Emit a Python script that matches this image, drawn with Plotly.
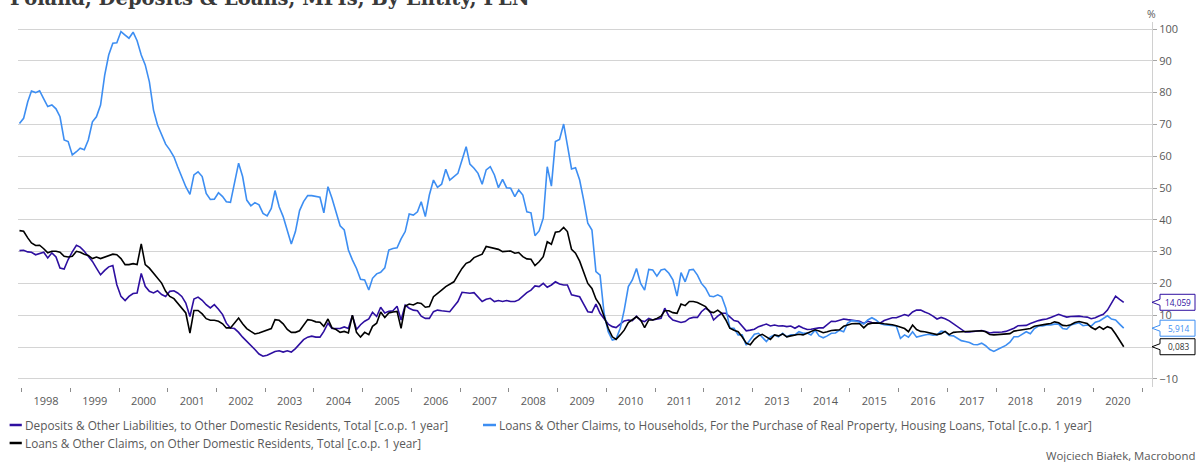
import pandas as pd
import plotly.graph_objects as go

# ---------------- data (monthly, Dec 1997 .. Aug 2020) ----------------
first_month = "1997-12-01"

deposits = [
    30.3,
    30.4, 29.9, 29.8, 29.0, 29.4, 29.8, 28.0, 29.6, 28.3, 24.8, 24.5, 27.5,
    29.9, 32.0, 31.4, 30.1, 28.5, 26.9, 24.8, 22.7, 24.1, 25.2, 25.6, 19.6,
    15.9, 14.6, 15.9, 16.8, 17.0, 23.1, 19.1, 17.5, 17.0, 17.7, 16.5, 15.9,
    17.5, 17.7, 17.0, 15.9, 13.8, 9.6, 15.1, 15.7, 14.7, 13.3, 12.3, 13.3,
    11.9, 10.2, 7.5, 6.0, 5.8, 4.6, 3.1, 1.8, 0.7, -0.8, -2.2, -2.9,
    -2.6, -2.1, -1.4, -1.2, -1.6, -1.2, -1.6, -0.5, 0.9, 2.3, 3.1, 3.4,
    3.1, 3.1, 4.9, 7.5, 5.8, 5.8, 5.8, 6.3, 5.8, 9.9, 5.5, 7.0,
    8.1, 8.8, 10.9, 9.6, 12.5, 10.7, 11.2, 11.4, 12.8, 8.5, 13.2, 12.2,
    11.6, 11.4, 9.7, 9.0, 9.0, 11.1, 11.6, 11.4, 11.3, 11.1, 12.7, 14.3,
    17.2, 17.1, 16.9, 17.1, 15.8, 14.3, 15.0, 15.3, 14.3, 14.6, 14.3, 14.6,
    14.3, 14.3, 14.8, 16.0, 17.1, 17.9, 19.2, 19.0, 20.0, 18.8, 19.5, 20.5,
    19.8, 19.5, 19.5, 16.4, 16.0, 15.8, 13.5, 11.1, 10.9, 13.5, 10.6, 9.0,
    7.2, 6.4, 6.1, 7.2, 8.2, 8.5, 8.3, 9.7, 8.3, 8.0, 9.0, 8.5,
    8.7, 9.0, 12.2, 9.7, 8.5, 8.0, 7.7, 8.0, 9.0, 9.3, 9.3, 11.1,
    12.2, 11.4, 8.5, 9.7, 10.6, 10.6, 9.5, 8.3, 8.0, 6.4, 5.1, 5.3,
    5.6, 6.4, 6.9, 7.2, 6.6, 6.9, 6.6, 6.7, 6.4, 6.6, 5.9, 6.6,
    6.0, 5.5, 5.6, 5.9, 6.0, 6.0, 7.0, 8.1, 8.0, 8.3, 8.8, 8.6,
    8.4, 8.3, 8.1, 7.4, 8.1, 7.7, 7.5, 7.5, 8.3, 8.8, 9.2, 9.2,
    9.8, 10.2, 9.8, 11.0, 11.6, 11.6, 11.0, 10.5, 9.7, 8.8, 9.3, 8.9,
    8.2, 7.3, 6.5, 5.5, 4.7, 4.7, 4.9, 5.2, 5.2, 4.9, 4.4, 4.6,
    4.6, 4.7, 4.9, 5.3, 5.9, 6.7, 6.7, 6.8, 7.4, 7.9, 8.3, 8.6,
    8.8, 9.3, 9.9, 10.3, 9.8, 9.4, 9.6, 9.7, 9.7, 9.5, 9.4, 8.9,
    9.2, 9.8, 10.3, 11.6, 13.9, 16.0, 15.0, 14.059,
]

housing_loans = [
    70.3,
    71.9, 77.1, 80.5, 80.0, 80.6, 78.0, 75.6, 76.1, 74.9, 72.4, 65.1, 64.6,
    60.4, 61.4, 62.5, 62.0, 65.1, 70.8, 72.4, 76.1, 85.5, 91.8, 95.5, 95.7,
    99.2, 98.1, 97.1, 99.0, 96.3, 91.8, 88.7, 83.4, 74.5, 69.8, 66.7, 63.8,
    62.0, 59.8, 56.7, 53.6, 50.4, 48.0, 54.1, 55.1, 53.6, 48.3, 46.4, 46.5,
    48.5, 47.3, 45.7, 45.5, 51.5, 57.8, 53.6, 46.2, 44.4, 45.4, 44.7, 42.0,
    41.2, 43.6, 49.2, 44.1, 41.0, 36.8, 32.4, 36.3, 42.9, 45.7, 47.6, 47.6,
    47.3, 47.1, 42.2, 50.4, 46.8, 42.0, 38.1, 36.8, 30.5, 27.4, 24.7, 21.3,
    21.1, 17.9, 21.6, 23.0, 23.5, 24.9, 30.5, 31.0, 31.2, 34.0, 36.3, 41.8,
    41.5, 42.5, 45.7, 41.0, 47.8, 52.5, 50.2, 51.2, 55.9, 52.5, 53.6, 54.6,
    58.8, 63.0, 57.5, 56.2, 54.6, 51.2, 55.7, 56.7, 54.1, 50.1, 52.7, 50.1,
    49.9, 47.3, 49.4, 47.8, 42.5, 42.2, 35.0, 36.5, 40.5, 56.7, 50.6, 64.6,
    65.3, 70.1, 63.5, 56.0, 56.4, 52.5, 46.2, 38.9, 36.8, 23.7, 22.6, 10.6,
    4.8, 2.2, 2.5, 5.9, 11.6, 19.0, 21.1, 24.7, 20.0, 17.9, 24.4, 24.2,
    22.3, 24.2, 24.5, 23.2, 21.1, 16.0, 23.4, 20.5, 24.2, 24.4, 22.6, 20.0,
    18.5, 16.0, 15.8, 16.4, 15.8, 12.2, 5.9, 5.9, 3.8, 3.8, 0.6, 2.4,
    4.0, 4.3, 3.2, 1.7, 3.2, 3.8, 3.2, 4.3, 3.2, 3.8, 3.8, 4.8,
    4.3, 4.4, 3.8, 5.3, 3.5, 2.9, 3.5, 4.3, 4.4, 5.3, 4.8, 7.5,
    8.3, 8.2, 7.8, 7.2, 8.5, 9.2, 8.5, 7.4, 7.0, 6.9, 6.7, 6.6,
    2.7, 3.8, 3.1, 4.8, 3.1, 3.5, 3.8, 4.0, 3.7, 3.8, 5.0, 4.8,
    3.6, 3.5, 2.9, 2.0, 1.7, 1.4, 0.8, 0.7, 1.2, 0.4, -0.8, -1.4,
    -0.7, 0.0, 0.5, 1.5, 3.2, 3.2, 3.9, 4.8, 4.2, 5.8, 6.6, 6.6,
    6.9, 6.9, 7.2, 7.2, 5.8, 5.6, 6.9, 7.2, 7.6, 6.7, 6.9, 6.6,
    7.8, 8.2, 8.9, 9.8, 8.8, 8.5, 7.2, 5.914,
]

loans_other = [
    36.6,
    36.4, 34.3, 32.7, 31.9, 32.0, 30.9, 29.6, 30.1, 30.1, 29.8, 28.5, 28.3,
    28.5, 30.1, 29.8, 29.2, 28.8, 27.8, 28.3, 27.8, 28.3, 28.7, 29.2, 29.0,
    27.8, 25.9, 25.9, 26.2, 25.9, 32.4, 25.9, 24.8, 23.3, 21.9, 20.1, 17.5,
    15.9, 15.2, 13.8, 11.9, 10.7, 4.4, 11.5, 11.5, 10.4, 8.9, 8.4, 8.4,
    8.1, 7.3, 6.0, 6.0, 7.5, 9.1, 7.3, 5.8, 4.9, 4.1, 4.4, 4.9,
    5.5, 5.8, 8.6, 8.4, 7.3, 5.5, 4.6, 4.6, 5.1, 7.0, 8.6, 8.4,
    7.9, 7.8, 6.5, 8.8, 6.0, 5.5, 4.6, 4.9, 4.4, 10.0, 4.6, 3.1,
    4.6, 3.9, 6.5, 7.5, 11.0, 9.3, 10.7, 11.0, 11.2, 5.9, 12.9, 13.5,
    13.2, 13.9, 13.7, 12.5, 12.7, 15.8, 16.7, 17.9, 19.0, 19.7, 20.5, 22.6,
    24.7, 26.3, 26.8, 28.1, 28.6, 29.2, 31.6, 31.3, 31.0, 30.7, 30.0, 30.0,
    30.2, 29.5, 29.7, 28.4, 27.7, 27.6, 25.6, 26.8, 28.4, 33.1, 32.3, 36.1,
    36.3, 37.6, 36.3, 30.7, 29.5, 27.0, 23.7, 20.0, 18.4, 15.1, 13.2, 9.5,
    5.9, 3.2, 2.4, 3.8, 5.3, 7.7, 8.5, 9.5, 8.5, 6.1, 8.5, 8.5,
    9.0, 9.7, 11.4, 11.4, 10.8, 10.6, 13.5, 13.0, 14.3, 14.3, 14.0, 13.4,
    12.7, 11.1, 10.8, 11.6, 10.6, 8.5, 5.9, 5.3, 4.8, 3.2, 1.2, 0.7,
    2.4, 3.5, 4.0, 3.2, 2.4, 3.8, 3.5, 4.1, 3.2, 3.5, 3.8, 4.0,
    3.8, 4.3, 4.9, 5.4, 5.0, 4.5, 4.8, 5.2, 5.3, 5.4, 6.5, 7.0,
    7.3, 7.4, 7.3, 6.0, 7.2, 7.5, 7.6, 7.5, 7.3, 7.2, 7.0, 6.7,
    6.3, 5.8, 4.8, 6.9, 5.5, 4.9, 4.8, 4.5, 4.1, 3.9, 4.2, 4.9,
    3.9, 4.6, 4.7, 4.8, 4.9, 4.9, 5.0, 5.1, 5.1, 4.8, 3.9, 3.8,
    3.9, 4.1, 4.1, 4.2, 5.0, 5.2, 5.4, 5.6, 5.8, 6.5, 6.8, 7.0,
    7.2, 7.4, 7.9, 7.6, 6.8, 6.7, 7.0, 7.7, 8.0, 7.7, 7.4, 6.2,
    5.5, 6.4, 5.6, 6.4, 5.9, 4.1, 2.3, 0.083,
]

series_names = [
    "Deposits & Other Liabilities, to Other Domestic Residents, Total [c.o.p. 1 year]",
    "Loans & Other Claims, to Households, For the Purchase of Real Property, Housing Loans, Total [c.o.p. 1 year]",
    "Loans & Other Claims, on Other Domestic Residents, Total [c.o.p. 1 year]",
]
series_colors = ["#2e0fa0", "#3d8ef2", "#000000"]
y_ticks = list(range(-10, 101, 10))

title_text = "Poland, Deposits & Loans, MFIs, By Entity, PLN"
credit_text = "Wojciech Białek, Macrobond"

# ---------------- figure ----------------
dates = pd.date_range(first_month, periods=len(deposits), freq="MS") + pd.Timedelta(days=14)
all_series = [deposits, housing_loans, loans_other]

W, H = 1198, 462
L, R, T, B = 18, 1152, 22, 387          # plot area in pixels
Y0, Y1 = -12.58, 102.2
ppu = (B - T) / (Y1 - Y0)               # pixels per y-unit

def px_x(px):
    return (px - L) / (R - L)

def px_y(py):
    return (B - py) / (B - T)

fig = go.Figure()
for vals, name, col in zip(all_series, series_names, series_colors):
    fig.add_trace(go.Scatter(x=dates, y=vals, mode="lines", name=name,
                             line=dict(color=col, width=1.6), showlegend=False))

font_main = "Open Sans"
txt_col = "#595959"

fig.update_layout(
    width=W, height=H,
    margin=dict(l=L, r=W - R, t=T, b=H - B, pad=0),
    paper_bgcolor="white", plot_bgcolor="white",
    font=dict(family=font_main, size=11, color=txt_col),
    xaxis=dict(
        type="date",
        range=["1997-12-04", "2021-03-15"],
        tick0="1998-01-01", dtick="M12", tickformat="%Y",
        ticklabelmode="period",
        ticks="outside", ticklen=4, tickcolor="#8c8c8c", tickwidth=1,
        showgrid=False, showline=False, zeroline=False,
        tickfont=dict(size=11, color=txt_col),
    ),
    yaxis=dict(
        side="right",
        range=[Y0, Y1],
        tickvals=y_ticks,
        ticks="outside", ticklen=4, tickcolor="#a6a6a6",
        showline=True, linecolor="#d0d0d0", linewidth=1,
        showgrid=True, gridcolor="#d4d4d4", gridwidth=1,
        zeroline=False,
        tickfont=dict(size=11, color=txt_col),
    ),
    hovermode=False,
)

annotations = []
shapes = []

# title (partly cut off at the top, as in the reference)
annotations.append(dict(
    text=f"<b>{title_text}</b>", xref="paper", yref="paper",
    x=px_x(8), y=px_y(12), xanchor="left", yanchor="bottom", showarrow=False,
    font=dict(family="DejaVu Serif", size=19.5, color="#3a3a3a"),
))

# % unit label
annotations.append(dict(
    text="%", xref="paper", yref="paper", x=px_x(1151), y=px_y(14),
    xanchor="center", yanchor="middle", showarrow=False,
    font=dict(size=10.5, color=txt_col),
))

# legend (drawn manually to match the compact swatches)
legend_items = [
    (0, 9.6, 21.8, 23, 425),
    (1, 483, 496, 496.5, 425),
    (2, 9.6, 21.8, 23, 443),
]
for idx, x0, x1, xt, yy in legend_items:
    shapes.append(dict(type="line", xref="paper", yref="paper",
                       x0=px_x(x0), x1=px_x(x1), y0=px_y(yy), y1=px_y(yy),
                       line=dict(color=series_colors[idx], width=2.5)))
    annotations.append(dict(
        text=series_names[idx], xref="paper", yref="paper",
        x=px_x(xt), y=px_y(yy), xanchor="left", yanchor="middle",
        showarrow=False, font=dict(size=11.8, color=txt_col),
    ))

# credit
annotations.append(dict(
    text=credit_text, xref="paper", yref="paper", x=px_x(1197), y=px_y(455),
    xanchor="right", yanchor="middle", showarrow=False,
    font=dict(size=11.4, color=txt_col),
))

# last-value callouts
bx0, bx1, tip = 1160, 1195, 1152
for vals, col in zip(all_series, series_colors):
    v = vals[-1]
    hh = 8 / ppu
    nh = 3 / ppu
    path = (f"M {px_x(bx0)},{v + nh} L {px_x(bx0)},{v + hh} L {px_x(bx1)},{v + hh} "
            f"L {px_x(bx1)},{v - hh} L {px_x(bx0)},{v - hh} L {px_x(bx0)},{v - nh} "
            f"L {px_x(tip)},{v} Z")
    shapes.append(dict(type="path", xref="paper", yref="y", path=path,
                       fillcolor="white", line=dict(color=col, width=1), layer="above"))
    annotations.append(dict(
        text=f"{v:.3f}".replace(".", ","), xref="paper", yref="y",
        x=px_x((bx0 + bx1) / 2 + 0.5), y=v, xanchor="center", yanchor="middle",
        showarrow=False, font=dict(size=8.3, color=col if col != "#000000" else "#333333"),
    ))

fig.update_layout(annotations=annotations, shapes=shapes)
fig.write_html("out.html", config={"displayModeBar": False},
               post_script="document.body.style.margin='0px';")
